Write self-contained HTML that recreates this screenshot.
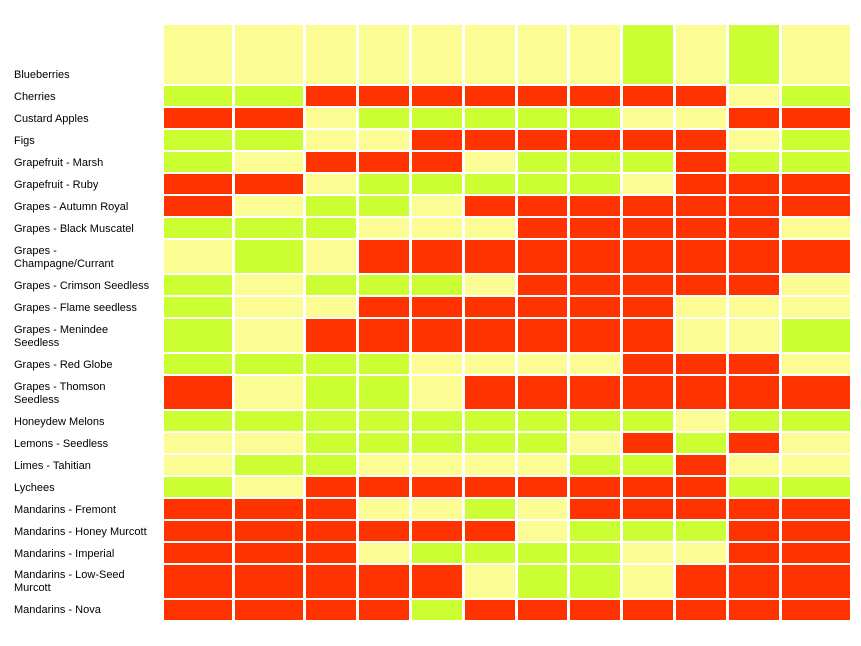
<!DOCTYPE html>
<html><head><meta charset="utf-8"><style>
body{margin:0;width:861px;height:646px;background:#fff;position:relative;overflow:hidden;font-family:"Liberation Sans",Arial,sans-serif;}
#g{position:absolute;left:164px;top:25px;display:grid;grid-template-columns:68px 68px 50px 50px 50px 50px 49px 50px 50px 50px 50px 68px;grid-template-rows:59px 20px 20px 20px 20px 20px 20px 20px 33px 20px 20px 33px 20px 33px 20px 20px 20px 20px 20px 20px 20px 33px 20px;column-gap:3px;row-gap:2px;}
#g i{display:block;}
.Y{background:#FCFC94}.G{background:#CCFF33}.R{background:#FF3300}
.l{position:absolute;left:14px;font-size:11px;line-height:13px;color:#000;width:145px;}
</style></head><body>
<div id="g">
<i class="Y"></i><i class="Y"></i><i class="Y"></i><i class="Y"></i><i class="Y"></i><i class="Y"></i><i class="Y"></i><i class="Y"></i><i class="G"></i><i class="Y"></i><i class="G"></i><i class="Y"></i>
<i class="G"></i><i class="G"></i><i class="R"></i><i class="R"></i><i class="R"></i><i class="R"></i><i class="R"></i><i class="R"></i><i class="R"></i><i class="R"></i><i class="Y"></i><i class="G"></i>
<i class="R"></i><i class="R"></i><i class="Y"></i><i class="G"></i><i class="G"></i><i class="G"></i><i class="G"></i><i class="G"></i><i class="Y"></i><i class="Y"></i><i class="R"></i><i class="R"></i>
<i class="G"></i><i class="G"></i><i class="Y"></i><i class="Y"></i><i class="R"></i><i class="R"></i><i class="R"></i><i class="R"></i><i class="R"></i><i class="R"></i><i class="Y"></i><i class="G"></i>
<i class="G"></i><i class="Y"></i><i class="R"></i><i class="R"></i><i class="R"></i><i class="Y"></i><i class="G"></i><i class="G"></i><i class="G"></i><i class="R"></i><i class="G"></i><i class="G"></i>
<i class="R"></i><i class="R"></i><i class="Y"></i><i class="G"></i><i class="G"></i><i class="G"></i><i class="G"></i><i class="G"></i><i class="Y"></i><i class="R"></i><i class="R"></i><i class="R"></i>
<i class="R"></i><i class="Y"></i><i class="G"></i><i class="G"></i><i class="Y"></i><i class="R"></i><i class="R"></i><i class="R"></i><i class="R"></i><i class="R"></i><i class="R"></i><i class="R"></i>
<i class="G"></i><i class="G"></i><i class="G"></i><i class="Y"></i><i class="Y"></i><i class="Y"></i><i class="R"></i><i class="R"></i><i class="R"></i><i class="R"></i><i class="R"></i><i class="Y"></i>
<i class="Y"></i><i class="G"></i><i class="Y"></i><i class="R"></i><i class="R"></i><i class="R"></i><i class="R"></i><i class="R"></i><i class="R"></i><i class="R"></i><i class="R"></i><i class="R"></i>
<i class="G"></i><i class="Y"></i><i class="G"></i><i class="G"></i><i class="G"></i><i class="Y"></i><i class="R"></i><i class="R"></i><i class="R"></i><i class="R"></i><i class="R"></i><i class="Y"></i>
<i class="G"></i><i class="Y"></i><i class="Y"></i><i class="R"></i><i class="R"></i><i class="R"></i><i class="R"></i><i class="R"></i><i class="R"></i><i class="Y"></i><i class="Y"></i><i class="Y"></i>
<i class="G"></i><i class="Y"></i><i class="R"></i><i class="R"></i><i class="R"></i><i class="R"></i><i class="R"></i><i class="R"></i><i class="R"></i><i class="Y"></i><i class="Y"></i><i class="G"></i>
<i class="G"></i><i class="G"></i><i class="G"></i><i class="G"></i><i class="Y"></i><i class="Y"></i><i class="Y"></i><i class="Y"></i><i class="R"></i><i class="R"></i><i class="R"></i><i class="Y"></i>
<i class="R"></i><i class="Y"></i><i class="G"></i><i class="G"></i><i class="Y"></i><i class="R"></i><i class="R"></i><i class="R"></i><i class="R"></i><i class="R"></i><i class="R"></i><i class="R"></i>
<i class="G"></i><i class="G"></i><i class="G"></i><i class="G"></i><i class="G"></i><i class="G"></i><i class="G"></i><i class="G"></i><i class="G"></i><i class="Y"></i><i class="G"></i><i class="G"></i>
<i class="Y"></i><i class="Y"></i><i class="G"></i><i class="G"></i><i class="G"></i><i class="G"></i><i class="G"></i><i class="Y"></i><i class="R"></i><i class="G"></i><i class="R"></i><i class="Y"></i>
<i class="Y"></i><i class="G"></i><i class="G"></i><i class="Y"></i><i class="Y"></i><i class="Y"></i><i class="Y"></i><i class="G"></i><i class="G"></i><i class="R"></i><i class="Y"></i><i class="Y"></i>
<i class="G"></i><i class="Y"></i><i class="R"></i><i class="R"></i><i class="R"></i><i class="R"></i><i class="R"></i><i class="R"></i><i class="R"></i><i class="R"></i><i class="G"></i><i class="G"></i>
<i class="R"></i><i class="R"></i><i class="R"></i><i class="Y"></i><i class="Y"></i><i class="G"></i><i class="Y"></i><i class="R"></i><i class="R"></i><i class="R"></i><i class="R"></i><i class="R"></i>
<i class="R"></i><i class="R"></i><i class="R"></i><i class="R"></i><i class="R"></i><i class="R"></i><i class="Y"></i><i class="G"></i><i class="G"></i><i class="G"></i><i class="R"></i><i class="R"></i>
<i class="R"></i><i class="R"></i><i class="R"></i><i class="Y"></i><i class="G"></i><i class="G"></i><i class="G"></i><i class="G"></i><i class="Y"></i><i class="Y"></i><i class="R"></i><i class="R"></i>
<i class="R"></i><i class="R"></i><i class="R"></i><i class="R"></i><i class="R"></i><i class="Y"></i><i class="G"></i><i class="G"></i><i class="Y"></i><i class="R"></i><i class="R"></i><i class="R"></i>
<i class="R"></i><i class="R"></i><i class="R"></i><i class="R"></i><i class="G"></i><i class="R"></i><i class="R"></i><i class="R"></i><i class="R"></i><i class="R"></i><i class="R"></i><i class="R"></i>
</div>
<div class="l" style="top:69px">Blueberries</div>
<div class="l" style="top:91px">Cherries</div>
<div class="l" style="top:113px">Custard Apples</div>
<div class="l" style="top:135px">Figs</div>
<div class="l" style="top:157px">Grapefruit - Marsh</div>
<div class="l" style="top:179px">Grapefruit - Ruby</div>
<div class="l" style="top:201px">Grapes - Autumn Royal</div>
<div class="l" style="top:223px">Grapes - Black Muscatel</div>
<div class="l" style="top:245px">Grapes -<br>Champagne/Currant</div>
<div class="l" style="top:280px">Grapes - Crimson Seedless</div>
<div class="l" style="top:302px">Grapes - Flame seedless</div>
<div class="l" style="top:324px">Grapes - Menindee<br>Seedless</div>
<div class="l" style="top:359px">Grapes - Red Globe</div>
<div class="l" style="top:381px">Grapes - Thomson<br>Seedless</div>
<div class="l" style="top:416px">Honeydew Melons</div>
<div class="l" style="top:438px">Lemons - Seedless</div>
<div class="l" style="top:460px">Limes - Tahitian</div>
<div class="l" style="top:482px">Lychees</div>
<div class="l" style="top:504px">Mandarins - Fremont</div>
<div class="l" style="top:526px">Mandarins - Honey Murcott</div>
<div class="l" style="top:548px">Mandarins - Imperial</div>
<div class="l" style="top:569px">Mandarins - Low-Seed<br>Murcott</div>
<div class="l" style="top:604px">Mandarins - Nova</div>
</body></html>
